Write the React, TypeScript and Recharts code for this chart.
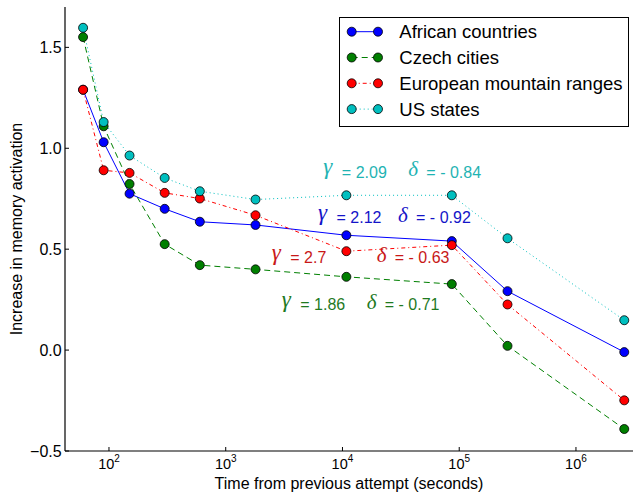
import { LineChart, Line, XAxis, YAxis, ReferenceDot, Legend } from 'recharts';

// seconds since previous attempt
const times = [60, 90, 150, 300, 600, 1800, 10800, 86400, 259200, 2592000];

const african = [1.29, 1.03, 0.775, 0.70, 0.636, 0.62, 0.569, 0.54, 0.292, -0.01];
const czech = [1.551, 1.109, 0.823, 0.525, 0.421, 0.40, 0.363, 0.327, 0.021, -0.391];
const european = [1.29, 0.891, 0.878, 0.779, 0.751, 0.668, 0.49, 0.52, 0.226, -0.249];
const usStates = [1.597, 1.13, 0.964, 0.853, 0.787, 0.746, 0.767, 0.767, 0.554, 0.148];

const majorXTicks = [100, 1000, 10000, 100000, 1000000];
const minorXTicks = [
    50, 60, 70, 80, 90,
    200, 300, 400, 500, 600, 700, 800, 900,
    2000, 3000, 4000, 5000, 6000, 7000, 8000, 9000,
    20000, 30000, 40000, 50000, 60000, 70000, 80000, 90000,
    200000, 300000, 400000, 500000, 600000, 700000, 800000, 900000,
    2000000, 3000000,
];
const yTicks = [-0.5, 0, 0.5, 1.0, 1.5];

// fitted parameters written on the plot (same order as series)
const gammas = ['2.12', '1.86', '2.7', '2.09'];
const deltas = ['- 0.92', '- 0.71', '- 0.63', '- 0.84'];

const X_DOMAIN: [number, number] = [42, 3.08e6];
const Y_DOMAIN: [number, number] = [-0.5, 1.7];
const FONT = '"Liberation Sans", Arial, Helvetica, sans-serif';
const MATH = '"Liberation Serif", "DejaVu Serif", serif';

const series = [
    { key: 'african', name: 'African countries', color: '#0000ff', text: '#1414c8', dash: undefined as string | undefined },
    { key: 'czech', name: 'Czech cities', color: '#007f00', text: '#1f7a1f', dash: '6 4' },
    { key: 'european', name: 'European mountain ranges', color: '#ff0000', text: '#c81818', dash: '4 3 1 3' },
    { key: 'us', name: 'US states', color: '#00bfbf', text: '#1fb3b3', dash: '1 3' },
];

// where each annotation starts (data coords) and the gap to its delta part in px
const annotationLayout = [
    { series: 3, t: 6860, v: 0.853, deltaDx: 85 },
    { series: 0, t: 6180, v: 0.629, deltaDx: 80 },
    { series: 2, t: 2480, v: 0.431, deltaDx: 105 },
    { series: 1, t: 3020, v: 0.198, deltaDx: 85 },
];

const data = times.map((t, i) => ({
    t,
    african: african[i],
    czech: czech[i],
    european: european[i],
    us: usStates[i],
}));

function PowerTick(props: any) {
    const { x, y, payload } = props;
    const exp = Math.round(Math.log10(payload.value));
    return (
        <text x={x} y={y + 10} textAnchor="middle" fontFamily={FONT} fontSize={14.5} fill="#000">
            10
            <tspan dy={-7} fontSize={10}>{exp}</tspan>
        </text>
    );
}

function Annotation({ cx, cy, idx }: { cx: number; cy: number; idx: number }) {
    const a = annotationLayout[idx];
    const s = series[a.series];
    const dx = a.deltaDx;
    return (
        <g fill={s.text}>
            <text x={cx} y={cy - 3.5} fontFamily={MATH} fontStyle="italic" fontSize={23}>γ</text>
            <text x={cx + 18.5} y={cy} fontFamily={FONT} fontSize={16}>= {gammas[a.series]}</text>
            <text x={cx + dx} y={cy - 1.5} fontFamily={MATH} fontStyle="italic" fontSize={21}>δ</text>
            <text x={cx + dx + 18} y={cy} fontFamily={FONT} fontSize={16}>= {deltas[a.series]}</text>
        </g>
    );
}

function LegendBox() {
    return (
        <svg width={290} height={110} style={{ display: 'block' }}>
            <rect x={0.5} y={0.5} width={289} height={109} fill="#fff" stroke="#000" strokeWidth={1} />
            {series.map((s, i) => {
                const cy = 14.7 + i * 25.8;
                return (
                    <g key={s.key}>
                        <line x1={12.7} x2={39} y1={cy} y2={cy} stroke={s.color} strokeWidth={1} strokeDasharray={s.dash} />
                        <circle cx={12.7} cy={cy} r={4.5} fill={s.color} stroke="#000" strokeWidth={0.8} />
                        <circle cx={39} cy={cy} r={4.5} fill={s.color} stroke="#000" strokeWidth={0.8} />
                        <text x={60.3} y={cy + 6.5} fontFamily={FONT} fontSize={18.5} fill="#000">{s.name}</text>
                    </g>
                );
            })}
        </svg>
    );
}

export default function App() {
    return (
        <div style={{ position: 'absolute', left: 0, top: 0, width: 633, height: 498, background: '#fff', fontFamily: FONT }}>
            <LineChart width={633} height={498} data={data} margin={{ top: 7, right: 0, bottom: 0, left: 0 }}>
                <XAxis
                    xAxisId="bottomMinor"
                    dataKey="t"
                    type="number"
                    scale="log"
                    domain={X_DOMAIN}
                    allowDataOverflow
                    ticks={minorXTicks}
                    interval={0}
                    tick={false}
                    tickSize={-2}
                    tickLine={{ stroke: '#000' }}
                    axisLine={false}
                    height={0}
                />
                <XAxis
                    xAxisId="main"
                    dataKey="t"
                    type="number"
                    scale="log"
                    domain={X_DOMAIN}
                    allowDataOverflow
                    ticks={majorXTicks}
                    interval={0}
                    tick={<PowerTick />}
                    tickSize={-4}
                    tickMargin={12}
                    tickLine={{ stroke: '#000' }}
                    axisLine={{ stroke: '#000', strokeWidth: 1.2 }}
                    height={47}
                    label={{
                        content: (p: any) => {
                            const vb = p.viewBox;
                            return (
                                <text x={vb.x + vb.width / 2} y={vb.y + 37.5} textAnchor="middle" fontFamily={FONT} fontSize={16} fill="#000">
                                    Time from previous attempt (seconds)
                                </text>
                            );
                        },
                    }}
                />
                <XAxis
                    xAxisId="top"
                    orientation="top"
                    dataKey="t"
                    type="number"
                    scale="log"
                    domain={X_DOMAIN}
                    allowDataOverflow
                    ticks={majorXTicks}
                    interval={0}
                    tick={false}
                    tickSize={-4}
                    tickLine={{ stroke: '#000' }}
                    axisLine={{ stroke: '#000', strokeWidth: 1.2 }}
                    height={0}
                />
                <XAxis
                    xAxisId="topMinor"
                    orientation="top"
                    dataKey="t"
                    type="number"
                    scale="log"
                    domain={X_DOMAIN}
                    allowDataOverflow
                    ticks={minorXTicks}
                    interval={0}
                    tick={false}
                    tickSize={-2}
                    tickLine={{ stroke: '#000' }}
                    axisLine={false}
                    height={0}
                />
                <YAxis
                    yAxisId="main"
                    type="number"
                    domain={Y_DOMAIN}
                    allowDataOverflow
                    ticks={yTicks}
                    interval={0}
                    width={65}
                    tickSize={-4}
                    tickMargin={7.3}
                    tickLine={{ stroke: '#000' }}
                    axisLine={{ stroke: '#000', strokeWidth: 1.2 }}
                    tick={{ fill: '#000', fontSize: 16, fontFamily: FONT }}
                    tickFormatter={(v: number) => v.toFixed(1).replace('-', '\u2212')}
                    label={{
                        content: (p: any) => {
                            const vb = p.viewBox;
                            const cx = vb.x + 21.5;
                            const cy = vb.y + vb.height / 2;
                            return (
                                <text x={cx} y={cy} transform={`rotate(-90 ${cx} ${cy})`} textAnchor="middle" fontFamily={FONT} fontSize={16} fill="#000">
                                    Increase in memory activation
                                </text>
                            );
                        },
                    }}
                />
                <YAxis
                    yAxisId="right"
                    orientation="right"
                    type="number"
                    domain={Y_DOMAIN}
                    allowDataOverflow
                    ticks={yTicks}
                    interval={0}
                    width={0}
                    tick={false}
                    tickSize={-4}
                    tickLine={{ stroke: '#000' }}
                    axisLine={{ stroke: '#000', strokeWidth: 1.2 }}
                />
                {series.map((s) => (
                    <Line
                        key={s.key}
                        xAxisId="main"
                        yAxisId="main"
                        type="linear"
                        dataKey={s.key}
                        name={s.name}
                        stroke={s.color}
                        strokeWidth={1}
                        strokeDasharray={s.dash}
                        dot={{ r: 4.5, fill: s.color, stroke: '#000', strokeWidth: 0.8, strokeDasharray: 'none' }}
                        activeDot={false}
                        isAnimationActive={false}
                    />
                ))}
                {annotationLayout.map((a, i) => (
                    <ReferenceDot
                        key={i}
                        xAxisId="main"
                        yAxisId="main"
                        x={a.t}
                        y={a.v}
                        r={0}
                        ifOverflow="visible"
                        shape={(p: any) => <Annotation cx={p.cx} cy={p.cy} idx={i} />}
                    />
                ))}
                <Legend
                    layout="vertical"
                    align="center"
                    verticalAlign="middle"
                    content={() => <LegendBox />}
                    wrapperStyle={{ left: 339, top: 17, width: 290, height: 110 }}
                />
            </LineChart>
        </div>
    );
}
